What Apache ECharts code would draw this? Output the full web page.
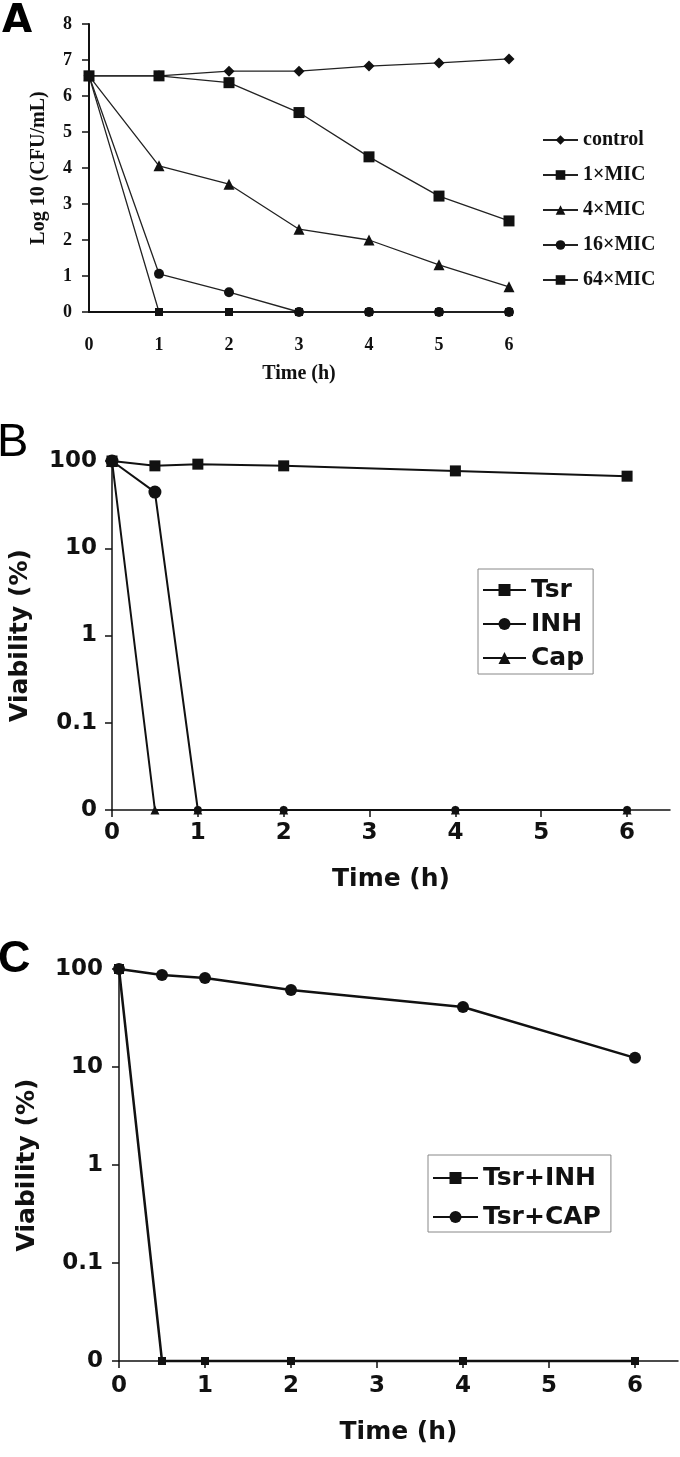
<!DOCTYPE html>
<html>
<head>
<meta charset="utf-8">
<script src="https://cdn.jsdelivr.net/npm/echarts@6/dist/echarts.min.js"></script>
<style>html,body{margin:0;padding:0;background:#fff;}#c{width:680px;height:1457px;}</style>
</head>
<body>
<div id="c"></div>
<script>
// ---------- Panel A ----------
const timeA = [0, 1, 2, 3, 4, 5, 6];
const namesA = ['control', '1×MIC', '4×MIC', '16×MIC', '64×MIC'];
const controlA = [6.56, 6.56, 6.69, 6.69, 6.83, 6.92, 7.03];
const mic1A = [6.56, 6.56, 6.37, 5.54, 4.31, 3.22, 2.53];
const mic4A = [6.56, 4.06, 3.55, 2.30, 2.00, 1.31, 0.70];
const mic16A = [6.56, 1.06, 0.55, 0, 0, 0, 0];
const mic64A = [6.56, 0, 0, 0, 0, 0, 0];
const yTicksA = [0, 1, 2, 3, 4, 5, 6, 7, 8];

// ---------- Panel B ----------
const timeB = [0, 0.5, 1, 2, 4, 6];
const namesB = ['Tsr', 'INH', 'Cap'];
const tsrB = [100, 88, 92, 88, 77, 67];
const inhB = [100, 44, 0.01, 0.01, 0.01, 0.01];
const capB = [100, 0.01, 0.01, 0.01, 0.01, 0.01];

// ---------- Panel C ----------
const timeC = [0, 0.5, 1, 2, 4, 6];
const namesC = ['Tsr+INH', 'Tsr+CAP'];
const tsrInhC = [100, 0.01, 0.01, 0.01, 0.01, 0.01];
const tsrCapC = [100, 87, 81, 61, 41, 12.4];

// shared tick labels
const timeTicks = [0, 1, 2, 3, 4, 5, 6];
const logTicks = [0.01, 0.1, 1, 10, 100];
const logTickLabels = ['0', '0.1', '1', '10', '100'];

const pair = (xs, ys) => xs.map((x, i) => [x, ys[i]]);
const logFmt = v => {
  let best = 0, d = Infinity;
  logTicks.forEach((t, i) => { const dd = Math.abs(Math.log10(v) - Math.log10(t)); if (dd < d) { d = dd; best = i; } });
  return logTickLabels[best];
};

const serif = 'Liberation Serif';
const sans = 'DejaVu Sans';
const ink = '#111';

const chart = echarts.init(document.getElementById('c'), null, { renderer: 'canvas' });

function lineA(name, data, symbol, size) {
  return {
    name, type: 'line', xAxisIndex: 0, yAxisIndex: 0, data: pair(timeA, data),
    symbol, symbolSize: size, showSymbol: true,
    lineStyle: { color: '#222', width: 1.3 }, itemStyle: { color: '#111' },
    emphasis: { disabled: true }, clip: false
  };
}
function lineLog(name, xi, xs, ys, symbol, size, axisSize, width) {
  return {
    name, type: 'line', xAxisIndex: xi, yAxisIndex: xi, data: pair(xs, ys),
    symbol, symbolSize: v => (v[1] <= 0.011 ? axisSize : size), showSymbol: true,
    lineStyle: { color: ink, width }, itemStyle: { color: ink },
    emphasis: { disabled: true }, clip: false
  };
}

const sansLabel = { fontFamily: sans, fontWeight: 'bold', fontSize: 23, color: ink };

chart.setOption({
  animation: false,
  backgroundColor: '#fff',
  grid: [
    { left: 89, top: 24, width: 420, height: 288 },
    { left: 108, top: 461, width: 562, height: 349 },
    { left: 119, top: 969, width: 559, height: 392 }
  ],
  xAxis: [
    {
      gridIndex: 0, type: 'value', min: 0, max: 6, interval: 1,
      name: 'Time (h)', nameLocation: 'middle', nameGap: 52,
      nameTextStyle: { fontFamily: serif, fontWeight: 'bold', fontSize: 20, color: ink },
      axisLine: { show: true, onZero: false, lineStyle: { color: ink, width: 2 } },
      axisTick: { show: false }, splitLine: { show: false },
      axisLabel: { margin: 24, fontFamily: serif, fontWeight: 'bold', fontSize: 18, color: ink }
    },
    {
      gridIndex: 1, type: 'value', min: 0, max: 6.5,
      name: 'Time (h)', nameLocation: 'middle', nameGap: 57,
      nameTextStyle: { fontFamily: sans, fontWeight: 'bold', fontSize: 25, color: ink },
      axisLine: { show: true, onZero: false, lineStyle: { color: ink, width: 1.5 } },
      axisTick: { show: true, length: 7, customValues: timeTicks, lineStyle: { color: ink, width: 1.5 } },
      splitLine: { show: false },
      axisLabel: Object.assign({ margin: 12, customValues: timeTicks }, sansLabel)
    },
    {
      gridIndex: 2, type: 'value', min: 0, max: 6.5,
      name: 'Time (h)', nameLocation: 'middle', nameGap: 59,
      nameTextStyle: { fontFamily: sans, fontWeight: 'bold', fontSize: 25, color: ink },
      axisLine: { show: true, onZero: false, lineStyle: { color: ink, width: 1.5 } },
      axisTick: { show: true, length: 7, customValues: timeTicks, lineStyle: { color: ink, width: 1.5 } },
      splitLine: { show: false },
      axisLabel: Object.assign({ margin: 14, customValues: timeTicks }, sansLabel)
    }
  ],
  yAxis: [
    {
      gridIndex: 0, type: 'value', min: 0, max: 8, interval: 1,
      name: 'Log 10 (CFU/mL)', nameLocation: 'middle', nameGap: 40,
      nameTextStyle: { fontFamily: serif, fontWeight: 'bold', fontSize: 20, color: ink },
      axisLine: { show: true, onZero: false, lineStyle: { color: ink, width: 2 } },
      axisTick: { show: true, length: 7, lineStyle: { color: ink, width: 1.5 } },
      splitLine: { show: false },
      axisLabel: { margin: 17, fontFamily: serif, fontWeight: 'bold', fontSize: 18, color: ink,
        formatter: v => String(yTicksA[Math.round(v)]) }
    },
    {
      gridIndex: 1, type: 'log', logBase: 10, min: 0.01, max: 100,
      name: 'Viability (%)', nameLocation: 'middle', nameGap: 79,
      nameTextStyle: { fontFamily: sans, fontWeight: 'bold', fontSize: 25, color: ink },
      axisLine: { show: true, onZero: false, lineStyle: { color: ink, width: 1.5 } },
      axisTick: { show: true, length: 7, lineStyle: { color: ink, width: 1.5 } },
      splitLine: { show: false }, minorTick: { show: false },
      axisLabel: Object.assign({ margin: 15, formatter: logFmt }, sansLabel)
    },
    {
      gridIndex: 2, type: 'log', logBase: 10, min: 0.01, max: 100,
      name: 'Viability (%)', nameLocation: 'middle', nameGap: 79,
      nameTextStyle: { fontFamily: sans, fontWeight: 'bold', fontSize: 25, color: ink },
      axisLine: { show: true, onZero: false, lineStyle: { color: ink, width: 1.5 } },
      axisTick: { show: true, length: 7, lineStyle: { color: ink, width: 1.5 } },
      splitLine: { show: false }, minorTick: { show: false },
      axisLabel: Object.assign({ margin: 16, formatter: logFmt }, sansLabel)
    }
  ],
  legend: [
    {
      data: namesA, orient: 'vertical', left: 542, top: 129, padding: 0,
      itemWidth: 35, itemHeight: 12, itemGap: 13, selectedMode: false,
      textStyle: { fontFamily: serif, fontWeight: 'bold', fontSize: 20, lineHeight: 22, color: ink }
    },
    {
      data: namesB, orient: 'vertical', left: 478, top: 569, padding: [8, 9, 3, 4],
      itemWidth: 43, itemHeight: 15, itemGap: 8, selectedMode: false,
      borderColor: '#888', borderWidth: 1,
      textStyle: { fontFamily: sans, fontWeight: 'bold', fontSize: 25, lineHeight: 26, color: ink }
    },
    {
      data: namesC, orient: 'vertical', left: 428, top: 1155, padding: [10, 10, 2, 4],
      itemWidth: 45, itemHeight: 15, itemGap: 13, selectedMode: false,
      borderColor: '#888', borderWidth: 1,
      textStyle: { fontFamily: sans, fontWeight: 'bold', fontSize: 25, lineHeight: 26, color: ink }
    }
  ],
  graphic: [
    { type: 'text', x: 2, y: 2, style: { text: 'A', fontFamily: sans, fontWeight: 'bold', fontSize: 39, fill: '#000' } },
    { type: 'text', x: -3, y: 420, style: { text: 'B', fontFamily: 'Liberation Sans', fontWeight: 'normal', fontSize: 47, fill: '#000' } },
    { type: 'text', x: -2, y: 937, style: { text: 'C', fontFamily: 'Liberation Sans', fontWeight: 'bold', fontSize: 45, fill: '#000' } }
  ],
  series: [
    lineA(namesA[0], controlA, 'diamond', 11),
    lineA(namesA[1], mic1A, 'rect', 11),
    lineA(namesA[2], mic4A, 'triangle', 11),
    lineA(namesA[3], mic16A, 'circle', 10),
    lineA(namesA[4], mic64A, 'rect', 8),
    lineLog(namesB[0], 1, timeB, tsrB, 'rect', 11, 8, 2),
    lineLog(namesB[1], 1, timeB, inhB, 'circle', 13, 8, 2),
    lineLog(namesB[2], 1, timeB, capB, 'triangle', 12, 9, 2),
    lineLog(namesC[0], 2, timeC, tsrInhC, 'rect', 10, 8, 2.5),
    lineLog(namesC[1], 2, timeC, tsrCapC, 'circle', 12, 8, 2.5)
  ]
});
</script>
</body>
</html>
